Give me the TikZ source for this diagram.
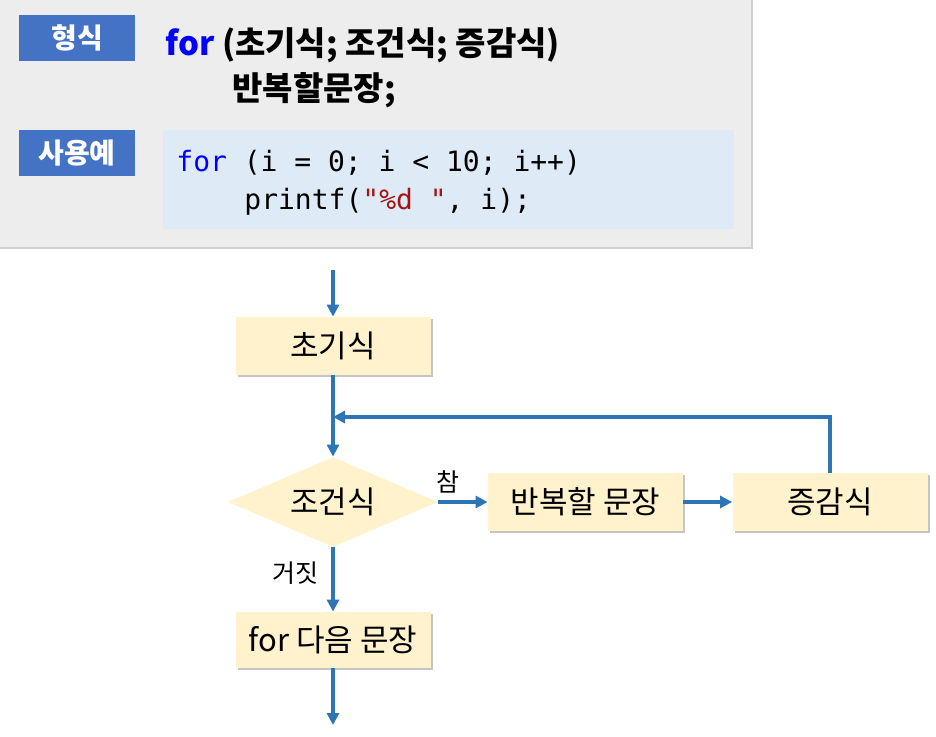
\documentclass[tikz,border=0pt]{standalone}
\usepackage{fontspec}
\setmainfont{Noto Sans CJK KR}
\setmonofont{DejaVu Sans Mono}
\usepackage{xcolor}
\usepackage{tikz}
\usetikzlibrary{shapes.geometric,shadows,arrows.meta}

\definecolor{panelgray}{HTML}{EDEDED}
\definecolor{panelline}{HTML}{D0D0D0}
\definecolor{tagblue}{HTML}{4472C4}
\definecolor{codebg}{HTML}{DEEBF7}
\definecolor{kwblue}{HTML}{0000FF}
\definecolor{strred}{HTML}{A31515}
\definecolor{boxfill}{HTML}{FFF2CC}
\definecolor{flowblue}{HTML}{2E75B6}

\tikzset{
	tagbox/.style={rectangle, fill=tagblue, text=white, font=\fontsize{14}{16}\selectfont\bfseries,
		minimum width=58pt, minimum height=23pt, inner sep=0pt},
	stepbox/.style={rectangle, fill=boxfill, font=\fontsize{15.5}{18}\selectfont,
		minimum width=97.5pt, minimum height=29pt, inner sep=0pt,
		drop shadow={shadow xshift=1.2pt, shadow yshift=-1.2pt, fill=black!45, opacity=.5}},
	testbox/.style={diamond, aspect=2.33, fill=boxfill, font=\fontsize{15.5}{18}\selectfont,
		minimum width=105pt, minimum height=45pt, inner sep=0pt},
	flow/.style={draw=flowblue, line width=1.8pt, -{Triangle[length=6pt,width=6pt]}},
	tag/.style={font=\fontsize{12.5}{15}\selectfont, inner sep=0pt}
}

\begin{document}
\begin{tikzpicture}[x=0.5pt,y=-0.5pt]
	\useasboundingbox (0,0) rectangle (936,737);
	
	% upper panel
	\fill[panelgray] (0,0) rectangle (752,248);
	\draw[panelline, line width=0.6pt] (752,0) -- (752,248) -- (0,248);
	\fill[codebg] (163,130) rectangle (734,229);
	
	\node[tagbox] (form) at (77,38) {형식};
	\node[tagbox] (usage) at (77,153) {사용예};
	
	\node[anchor=base west, inner sep=0pt, font=\fontsize{16.5}{19}\selectfont\bfseries] (form1) at (165,56)
		{{\color{kwblue}for} (초기식; 조건식; 증감식)};
	\node[anchor=base west, inner sep=0pt, font=\fontsize{16.5}{19}\selectfont\bfseries] (form2) at (232,101)
		{반복할문장;};
	
	\node[anchor=base west, inner sep=0pt, font=\fontsize{14}{17}\ttfamily] (code1) at (176,172)
		{{\color{kwblue}for} (i = 0; i < 10; i++)};
	\node[anchor=base west, inner sep=0pt, font=\fontsize{14}{17}\ttfamily] (code2) at (244,210)
		{printf({\color{strred}"\%d "}, i);};
	
	% flowchart
	\coordinate (start) at (333,270);
	\coordinate (merge) at (333,417);
	\coordinate (stop) at (333,725);
	
	\node[stepbox] (init) at (333,346) {초기식};
	\node[testbox] (cond) at (333,502) {조건식};
	\node[stepbox] (body) at (585.5,502) {반복할 문장};
	\node[stepbox] (inc) at (830,502) {증감식};
	\node[stepbox, minimum height=28pt] (next) at (333,640) {for 다음 문장};
	
	\node[tag] (yes) at (448,482) {참};
	\node[tag] (no) at (295,573) {거짓};
	
	\draw[flow] (start) -- (init.north);
	\draw[flow] (init.south) -- (cond.north);
	\draw[flow] (inc.north) |- (merge);
	\draw[flow] (cond.east) -- (body.west);
	\draw[flow] (body.east) -- (inc.west);
	\draw[flow] (cond.south) -- (next.north);
	\draw[flow] (next.south) -- (stop);
\end{tikzpicture}
\end{document}
